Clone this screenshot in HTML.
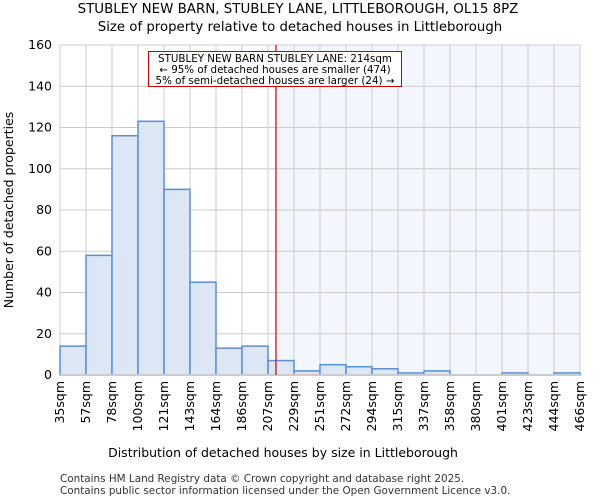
<!DOCTYPE html>
<html><head><meta charset="utf-8"><style>
body{margin:0;background:#fff;font-family:"DejaVu Sans","Liberation Sans",sans-serif}
</style></head><body>
<svg width="600" height="500" xmlns="http://www.w3.org/2000/svg" font-family="DejaVu Sans, Liberation Sans, sans-serif">
<text x="298" y="13" text-anchor="middle" font-size="13.4">STUBLEY NEW BARN, STUBLEY LANE, LITTLEBOROUGH, OL15 8PZ</text>
<text x="300" y="31" text-anchor="middle" font-size="13.3">Size of property relative to detached houses in Littleborough</text>
<g id="plot"></g>
<text x="283" y="457" text-anchor="middle" font-size="12.5">Distribution of detached houses by size in Littleborough</text>
<text transform="translate(13,210) rotate(-90)" text-anchor="middle" font-size="12.5">Number of detached properties</text>
<text x="60" y="482" font-size="10.4" fill="#333">Contains HM Land Registry data © Crown copyright and database right 2025.</text>
<text x="60" y="494" font-size="10.4" fill="#333">Contains public sector information licensed under the Open Government Licence v3.0.</text>
</svg>
<script>
const categories=["35sqm","57sqm","78sqm","100sqm","121sqm","143sqm","164sqm","186sqm","207sqm","229sqm","251sqm","272sqm","294sqm","315sqm","337sqm","358sqm","380sqm","401sqm","423sqm","444sqm","466sqm"];
const counts=[14,58,116,123,90,45,13,14,7,2,5,4,3,1,2,0,0,1,0,1];
const yTicks=[0,20,40,60,80,100,120,140,160];
const binStart=35,binWidth=21.55,subject=214;
const X0=60,X1=580,Y0=375,Y1=45;
const nb=counts.length,bw=(X1-X0)/nb;
const ys=v=>Y0-(v/160)*(Y0-Y1);
const xs=s=>X0+(s-binStart)/binWidth*bw;
const g=document.getElementById('plot');
const NS='http://www.w3.org/2000/svg';
function mk(t,a,p){const e=document.createElementNS(NS,t);for(const k in a)e.setAttribute(k,a[k]);(p||g).appendChild(e);return e;}
const sx=xs(subject);
const sh=mk('rect',{x:sx,y:Y1,width:X1-sx,height:Y0-Y1,fill:'#f3f6fd'});


yTicks.forEach(v=>{
 const l=mk('line',{x1:X0,x2:X1,y1:ys(v),y2:ys(v),stroke:'#ccc'});
 
 
 const t=mk('text',{x:X0-8,y:ys(v)+4,'text-anchor':'end','font-size':'12.5'});t.textContent=v;
 
 
});
categories.forEach((c,i)=>{
 const x=X0+i*bw;
 const l=mk('line',{x1:x,x2:x,y1:Y1,y2:Y0,stroke:'#ccc'});
 
 
 const t=mk('text',{transform:`translate(${x+4},${Y0+6}) rotate(-90)`,'text-anchor':'end','font-size':'12.5'});t.textContent=c;
 
 
});
counts.forEach((v,i)=>{
 if(v<=0)return;
 const r=mk('rect',{x:X0+i*bw,y:ys(v),width:bw,height:Y0-ys(v),fill:'#dce6f5',stroke:'#5a8fd6','stroke-width':1.5});
 
 
});
const base=mk('line',{x1:X0,x2:X1,y1:Y0,y2:Y0,stroke:'#ccc','stroke-width':2});


const rl=mk('line',{x1:sx,x2:sx,y1:Y1,y2:Y0,stroke:'#cc0000','stroke-width':1.2});


const ann=mk('g',{});


mk('rect',{x:148.5,y:51.5,width:253,height:35,fill:'#fff',stroke:'#cc0000'},ann);
["STUBLEY NEW BARN STUBLEY LANE: 214sqm","← 95% of detached houses are smaller (474)","5% of semi-detached houses are larger (24) →"].forEach((s,i)=>{
 const t=mk('text',{x:275,y:62+i*11,'text-anchor':'middle','font-size':'10.3'},ann);t.textContent=s;
});
</script>
</body></html>
